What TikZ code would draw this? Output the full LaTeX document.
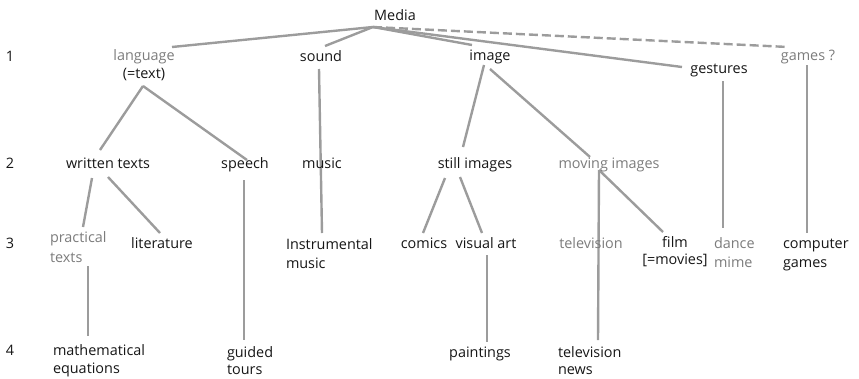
\documentclass[tikz,border=0pt]{standalone}
\usepackage{fontspec}
\setmainfont{Open Sans}
\usetikzlibrary{backgrounds}
\definecolor{inkdark}{HTML}{161616}
\definecolor{inklight}{HTML}{7C7C7C}
\definecolor{branch}{HTML}{9C9C9C}
\newcommand{\pairleft}[3][0pt]{\begin{tabular}[t]{@{}l@{}}#2\\[#1]#3\end{tabular}}
\newcommand{\paircenter}[3][0pt]{\begin{tabular}[t]{@{}c@{}}#2\\[#1]#3\end{tabular}}
\begin{document}
\begin{tikzpicture}[x=1pt,y=-1pt,
  label/.style={inner sep=0pt, outer sep=0pt, anchor=base, text=inkdark,
    font=\fontsize{14.4}{19}\selectfont},
  faint/.style={label, text=inklight},
  branchline/.style={draw=branch, line width=2.4pt},
  maybe/.style={branchline, dash pattern=on 9pt off 4pt}]
\useasboundingbox (0,0) rectangle (859,378);

% level numbers
\node[label] (n1) at (10,61) {1};
\node[label] (n2) at (10,168) {2};
\node[label] (n3) at (10,248) {3};
\node[label] (n4) at (10,355) {4};

% root
\node[label] (media) at (395,20) {Media};

% level 1
\node[label] (language) at (144,60) {\paircenter[-1pt]{\textcolor{inklight}{language}}{(=text)}};
\node[label] (sound) at (321,61) {sound};
\node[label] (image) at (490,60) {image};
\node[label] (gestures) at (719,73) {gestures};
\node[faint] (games) at (808,60) {games ?};

% level 2
\node[label] (written) at (108,168) {written texts};
\node[label] (speech) at (245,168) {speech};
\node[label] (music) at (322,168) {music};
\node[label] (still) at (475,168) {still images};
\node[faint] (moving) at (609,168) {moving images};

% level 3
\node[faint, anchor=base west] (practical) at (50,242) {\pairleft[1pt]{practical}{texts}};
\node[label] (literature) at (162,248) {literature};
\node[label, anchor=base west] (instrumental) at (286,249) {\pairleft{Instrumental}{music}};
\node[label] (comics) at (424,248) {comics};
\node[label] (visual) at (486,248) {visual art};
\node[faint] (television) at (591,248) {television};
\node[label] (film) at (675,247) {\paircenter[-2pt]{film}{[=movies]}};
\node[faint, anchor=base west] (dance) at (714,248) {\pairleft{dance}{mime}};
\node[label, anchor=base west] (computer) at (783,248) {\pairleft{computer}{games}};

% level 4
\node[label, anchor=base west] (equations) at (53,355) {\pairleft[-1pt]{mathematical}{equations}};
\node[label, anchor=base west] (tours) at (227,357) {\pairleft[-2pt]{guided}{tours}};
\node[label] (paintings) at (480,357) {paintings};
\node[label, anchor=base west] (news) at (558,357) {\pairleft[-2pt]{television}{news}};

\begin{pgfonlayer}{background}
% branches below the root
\draw[branchline] ([shift={(-22,7)}]media.base) -- ([shift={(28,-13)}]language.base);
\draw[branchline] ([shift={(-22,7)}]media.base) -- ([shift={(4,-15)}]sound.base);
\draw[branchline] ([shift={(-22,7)}]media.base) -- ([shift={(-18,-15)}]image.base);
\draw[branchline] ([shift={(-22,7)}]media.base) -- ([shift={(-37,-6)}]gestures.base);
\draw[maybe] ([shift={(-22,7)}]media.base) -- ([shift={(-20,-13)}]games.base);

% language
\draw[branchline] ([shift={(-1,26)}]language.base) -- ([shift={(-8,-18)}]written.base);
\draw[branchline] ([shift={(-1,26)}]language.base) -- ([shift={(2,-8)}]speech.base);
\draw[branchline] ([shift={(-16,10)}]written.base) -- ([shift={(33,-15)}]practical.base west);
\draw[branchline] ([shift={(0,9)}]written.base) -- ([shift={(-2,-15)}]literature.base);
\draw[branchline] ([shift={(38,24)}]practical.base west) -- ([shift={(35,-19)}]equations.base west);
\draw[branchline] ([shift={(-1,12)}]speech.base) -- ([shift={(17,-17)}]tours.base west);

% sound, through music
\draw[branchline] ([shift={(-2,8)}]sound.base) -- ([shift={(36,-16)}]instrumental.base west);

% image
\draw[branchline] ([shift={(-6,5)}]image.base) -- ([shift={(-12,-21)}]still.base);
\draw[branchline] ([shift={(0,9)}]image.base) -- ([shift={(-19,-11)}]moving.base);
\draw[branchline] ([shift={(-30,10)}]still.base) -- ([shift={(-1,-15)}]comics.base);
\draw[branchline] ([shift={(-15,9)}]still.base) -- ([shift={(-4,-15)}]visual.base);
\draw[branchline] ([shift={(1,7)}]visual.base) -- ([shift={(7,-15)}]paintings.base);
\draw[branchline] ([shift={(-10,2)}]moving.base) -- ([shift={(40,-17)}]news.base west);
\draw[branchline] ([shift={(-10,2)}]moving.base) -- ([shift={(-12,-15)}]film.base);

% gestures and games
\draw[branchline] ([shift={(4,8)}]gestures.base) -- ([shift={(9,-20)}]dance.base west);
\draw[branchline] ([shift={(-1,5)}]games.base) -- ([shift={(24,-15)}]computer.base west);
\end{pgfonlayer}
\end{tikzpicture}
\end{document}
